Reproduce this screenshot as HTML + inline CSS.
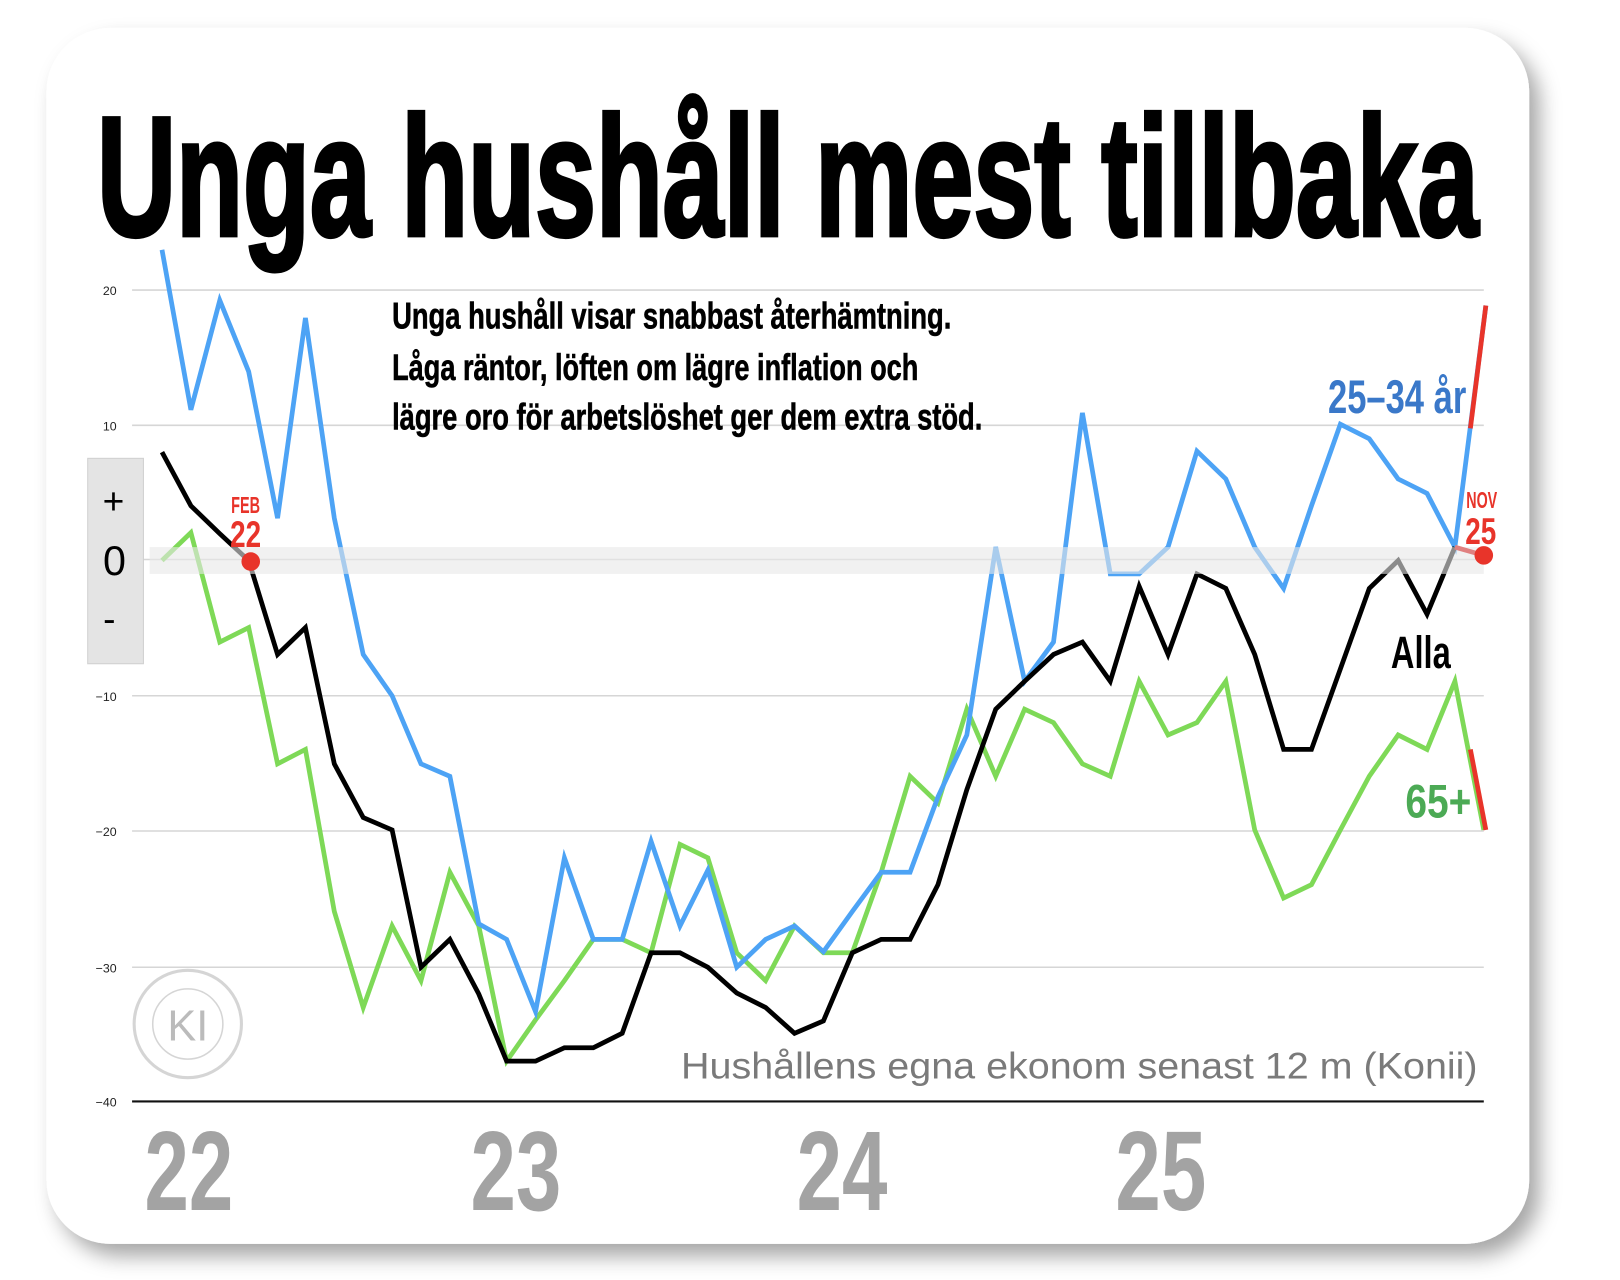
<!DOCTYPE html>
<html><head><meta charset="utf-8"><style>
html,body{margin:0;padding:0;background:#fff;width:1620px;height:1280px;overflow:hidden}
svg{display:block}
text{font-family:"Liberation Sans",sans-serif}
</style></head><body>
<svg width="1620" height="1280" viewBox="0 0 1570 1240" preserveAspectRatio="none">
<defs>
<filter id="sh" x="-10%" y="-10%" width="125%" height="125%"><feDropShadow dx="10" dy="12" stdDeviation="10" flood-color="#000" flood-opacity="0.35"/></filter>
</defs>
<rect x="45" y="27" width="1437" height="1178" rx="62" fill="#fff" filter="url(#sh)"/>
<text x="94" y="228" font-size="165" font-weight="bold" stroke="#000" stroke-width="4" textLength="1339" lengthAdjust="spacingAndGlyphs">Unga hushåll mest tillbaka</text>
<g stroke="#d6d6d6" stroke-width="1.5">
<line x1="128" y1="281" x2="1438" y2="281"/><line x1="128" y1="412" x2="1438" y2="412"/>
<line x1="128" y1="542" x2="1438" y2="542"/><line x1="128" y1="674" x2="1438" y2="674"/>
<line x1="128" y1="805" x2="1438" y2="805"/><line x1="128" y1="937" x2="1438" y2="937"/>
</g>
<line x1="128" y1="1067" x2="1438" y2="1067" stroke="#111" stroke-width="2"/>
<g font-size="12" fill="#222" text-anchor="end">
<text x="113" y="286">20</text><text x="113" y="417">10</text><text x="113" y="679">−10</text>
<text x="113" y="810">−20</text><text x="113" y="942">−30</text><text x="113" y="1072">−40</text>
</g>
<g font-weight="bold" font-size="36" stroke="#000" stroke-width="0.6">
<text x="380" y="318" textLength="542" lengthAdjust="spacingAndGlyphs">Unga hushåll visar snabbast återhämtning.</text>
<text x="380" y="368" textLength="510" lengthAdjust="spacingAndGlyphs">Låga räntor, löften om lägre inflation och</text>
<text x="380" y="416" textLength="572" lengthAdjust="spacingAndGlyphs">lägre oro för arbetslöshet ger dem extra stöd.</text>
</g>
<rect x="85" y="444" width="54" height="199" fill="#e4e4e4" stroke="#d0d0d0"/>
<text x="110" y="498" font-size="36" text-anchor="middle">+</text>
<text x="111" y="557" font-size="40" text-anchor="middle">0</text>
<text x="106" y="612" font-size="36" text-anchor="middle">-</text>
<g fill="none" stroke-width="4.6" stroke-linejoin="miter">
<polyline stroke="#7ed957" points="157,543 185,516 213,622 241,608 269,740 296,726 324,883 352,976 380,897 408,950 436,845 464,897 491,1028 519,988 547,950 575,910 603,910 631,923 659,818 686,831 714,923 742,950 770,897 798,923 826,923 854,845 882,752 909,778 937,687 965,752 993,687 1021,700 1049,740 1076,752 1104,660 1132,712 1160,700 1188,660 1216,804 1244,870 1271,857 1299,804 1327,752 1355,712 1383,726 1410,660 1438,804"/>
<polyline stroke="#4da3f5" points="157,242 185,397 213,291 241,360 269,502 296,308 324,502 352,634 380,674 408,740 436,752 464,895 491,910 519,980 547,831 575,910 603,910 631,815 659,897 686,843 714,937 742,910 770,897 798,922 826,883 854,845 882,845 909,772 937,712 965,530 993,660 1021,622 1049,400 1076,556 1104,556 1132,530 1160,437 1188,464 1216,530 1244,570 1271,490 1299,411 1327,425 1355,464 1383,478 1410,530 1440,296"/>
<polyline stroke="#000" points="157,438 185,490 213,517 241,543 269,634 296,608 324,740 352,792 380,804 408,937 436,910 464,963 491,1028 519,1028 547,1015 575,1015 603,1001 631,923 659,923 686,937 714,962 742,976 770,1001 798,989 826,923 854,910 882,910 909,857 937,765 965,687 993,660 1021,634 1049,622 1076,660 1104,568 1132,634 1160,556 1188,570 1216,634 1244,726 1271,726 1299,648 1327,570 1355,543 1383,595 1410,530"/>
<line x1="1425" y1="415" x2="1440" y2="296" stroke="#e8342a"/>
<line x1="1425" y1="726" x2="1440" y2="804" stroke="#e8342a"/>
</g>
<rect x="145" y="530" width="1293" height="26" fill="#e8e8e8" opacity="0.6"/>
<line x1="1410" y1="530" x2="1438" y2="538" stroke="#e08080" stroke-width="4.6"/>
<circle cx="243" cy="544" r="9" fill="#e8342a"/>
<circle cx="1438" cy="538" r="9" fill="#e8342a"/>
<g fill="#e8342a" font-weight="bold" text-anchor="middle">
<text x="238" y="497" font-size="22" textLength="28" lengthAdjust="spacingAndGlyphs">FEB</text>
<text x="238" y="530" font-size="36" textLength="30" lengthAdjust="spacingAndGlyphs">22</text>
<text x="1436" y="492" font-size="22" textLength="30" lengthAdjust="spacingAndGlyphs">NOV</text>
<text x="1435" y="527" font-size="36" textLength="30" lengthAdjust="spacingAndGlyphs">25</text>
</g>
<text x="1287" y="400" font-size="46" font-weight="bold" fill="#3a78c9" textLength="134" lengthAdjust="spacingAndGlyphs">25–34 år</text>
<text x="1348" y="647" font-size="44" font-weight="bold" fill="#000" textLength="58" lengthAdjust="spacingAndGlyphs">Alla</text>
<text x="1362" y="792" font-size="46" font-weight="bold" fill="#4caa55" textLength="64" lengthAdjust="spacingAndGlyphs">65+</text>
<g opacity="0.35" fill="none" stroke="#888">
<circle cx="182" cy="992" r="52" stroke-width="3"/><circle cx="182" cy="992" r="34" stroke-width="1.5"/>
</g>
<text x="182" y="1008" font-size="42" text-anchor="middle" fill="#bbb" font-family="Liberation Serif,serif">KI</text>
<text x="660" y="1045" font-size="36" fill="#7a7a7a" textLength="772" lengthAdjust="spacingAndGlyphs">Hushållens egna ekonom senast 12 m (Konii)</text>
<g font-size="110" font-weight="bold" fill="#a3a3a3">
<text x="140" y="1172" textLength="86" lengthAdjust="spacingAndGlyphs">22</text>
<text x="456" y="1172" textLength="88" lengthAdjust="spacingAndGlyphs">23</text>
<text x="772" y="1172" textLength="88" lengthAdjust="spacingAndGlyphs">24</text>
<text x="1081" y="1172" textLength="88" lengthAdjust="spacingAndGlyphs">25</text>
</g>
</svg>
</body></html>
